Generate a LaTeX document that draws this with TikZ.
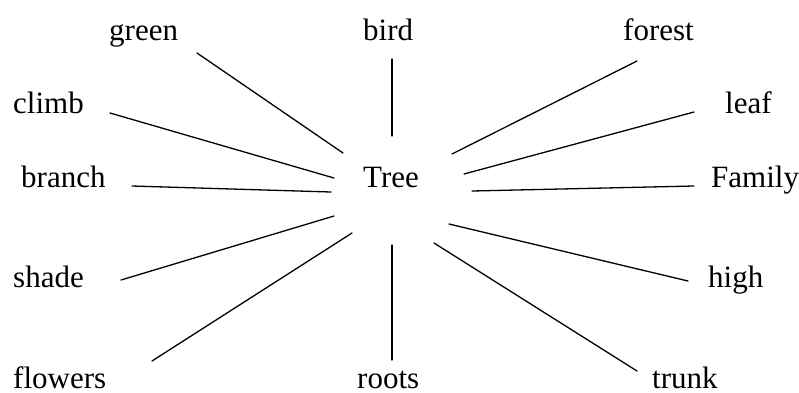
\documentclass[tikz,border=0pt]{standalone}
\usepackage{fontspec}
\setmainfont{Liberation Serif}
\newfontfamily\wordfont{Liberation Serif}
\begin{document}
\begin{tikzpicture}[x=1pt,y=-1pt,
  word/.style={inner sep=0pt,anchor=base west,font=\wordfont\fontsize{31}{37}\selectfont},
  spoke/.style={line width=1.3pt,line cap=round}]
\useasboundingbox (0,0) rectangle (799,392);
% words
\node[word] (tree) at (363,187) {Tree};
\node[word] (green) at (109,40) {green};
\node[word] (bird) at (363,40) {bird};
\node[word] (forest) at (623,40) {forest};
\node[word] (climb) at (13,113) {climb};
\node[word] (leaf) at (725,113) {leaf};
\node[word] (branch) at (21,187) {branch};
\node[word] (family) at (711,187) {Family};
\node[word] (shade) at (13,287) {shade};
\node[word] (high) at (708,287) {high};
\node[word] (flowers) at (13,388) {flowers};
\node[word] (roots) at (357,388) {roots};
\node[word] (trunk) at (652,388) {trunk};
% spoke ends
\coordinate (g1) at (197,53);  \coordinate (g2) at (343,153);
\coordinate (b1) at (392,59);  \coordinate (b2) at (392,136);
\coordinate (f1) at (637,61);  \coordinate (f2) at (452,154);
\coordinate (c1) at (110,113); \coordinate (c2) at (334,178);
\coordinate (l1) at (694,112); \coordinate (l2) at (464,174);
\coordinate (br1) at (132,186); \coordinate (br2) at (331,192);
\coordinate (fa1) at (694,186); \coordinate (fa2) at (472,191);
\coordinate (s1) at (121,280); \coordinate (s2) at (334,216);
\coordinate (h1) at (688,281); \coordinate (h2) at (449,224);
\coordinate (fl1) at (152,361); \coordinate (fl2) at (352,233);
\coordinate (r1) at (392,360); \coordinate (r2) at (392,245);
\coordinate (t1) at (637,371); \coordinate (t2) at (434,243);
% spokes
\draw[spoke] (g1) -- (g2);
\draw[spoke] (b1) -- (b2);
\draw[spoke] (f1) -- (f2);
\draw[spoke] (c1) -- (c2);
\draw[spoke] (l1) -- (l2);
\draw[spoke] (br1) -- (br2);
\draw[spoke] (fa1) -- (fa2);
\draw[spoke] (s1) -- (s2);
\draw[spoke] (h1) -- (h2);
\draw[spoke] (fl1) -- (fl2);
\draw[spoke] (r1) -- (r2);
\draw[spoke] (t1) -- (t2);
\end{tikzpicture}
\end{document}
